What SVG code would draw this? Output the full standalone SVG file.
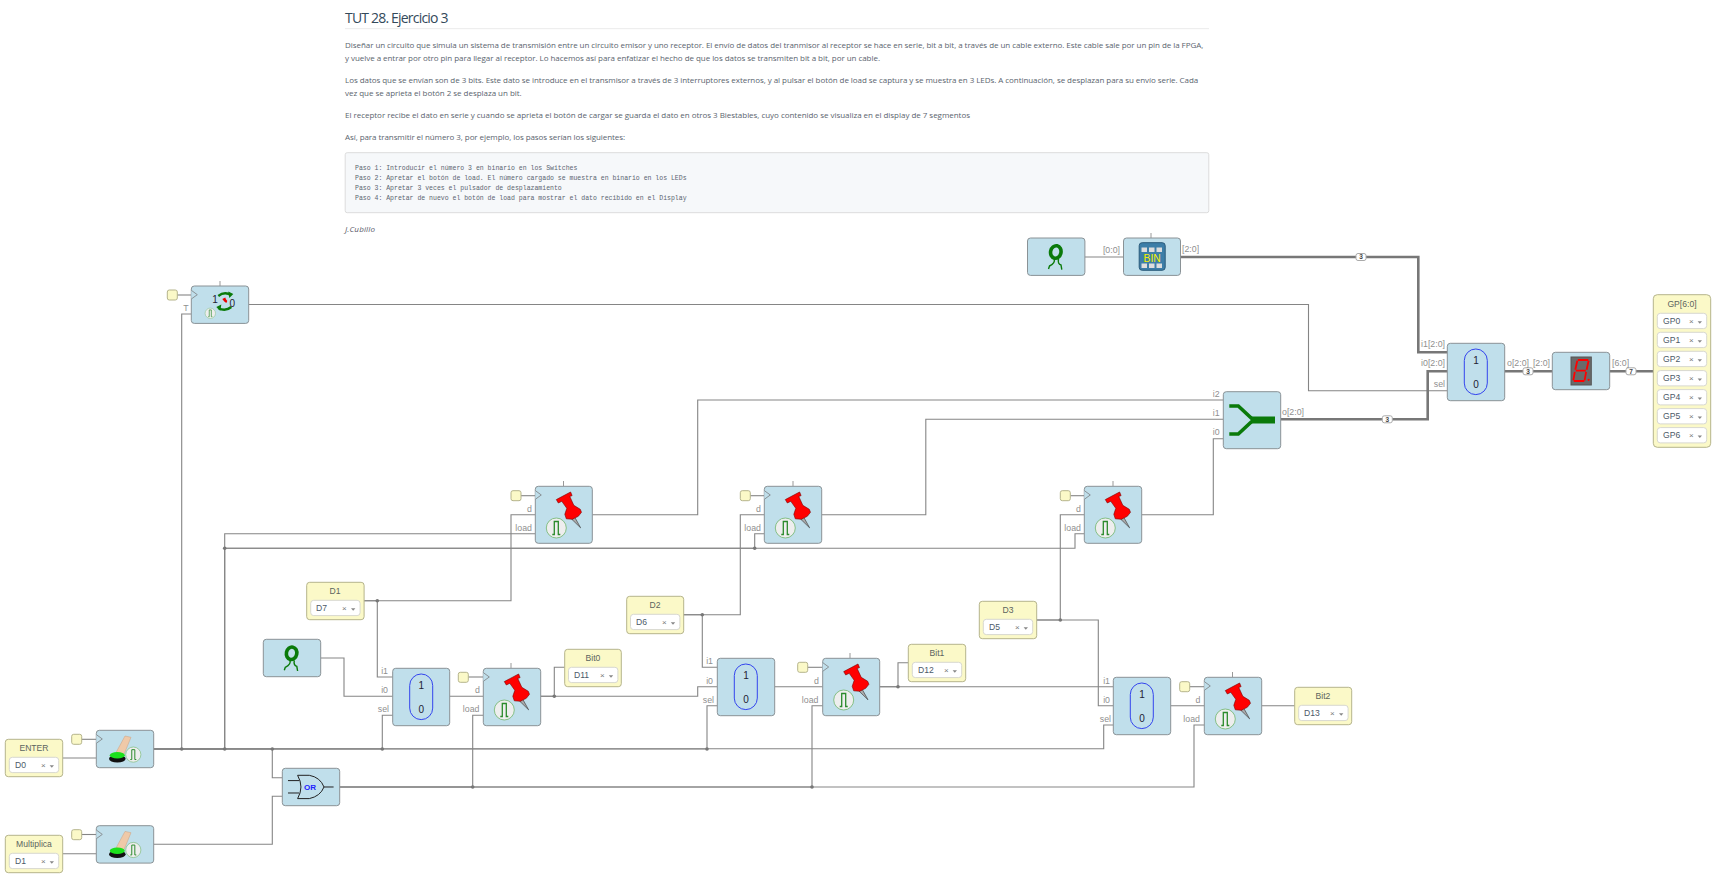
<svg xmlns="http://www.w3.org/2000/svg" width="1722" height="876" viewBox="0 0 1722 876">
<style>
text{font-family:"Liberation Sans",Arial,sans-serif}
.bg{fill:#fff}
.h1{font-family:"Open Sans","Noto Sans",sans-serif;font-size:14px;fill:#33495a}
.p{font-family:"Open Sans","Noto Sans",sans-serif;font-size:8px;fill:#5a646e}
.i{font-family:"Open Sans","Noto Sans",sans-serif;font-size:8px;font-style:italic;fill:#5a5a6a}
.m{font-family:"Liberation Mono","DejaVu Sans Mono",monospace;font-size:6.5px;fill:#5a6470}
.b{fill:#c0dfeb;stroke:#8a9296;stroke-width:1}
.y{fill:#fbf9c8;stroke:#b5b48c;stroke-width:1}
.s{fill:#fff;stroke:#d8d8d0;stroke-width:1}
.t{font-size:8.6px;fill:#5c6460;text-anchor:middle}
.v{font-size:8.6px;fill:#4c5a68}
.x{font-size:8px;fill:#777}
.l{font-size:8.8px;fill:#8f8f8f}
.e{text-anchor:end}
.w{fill:none;stroke:#858585;stroke-width:1.1}
.W{fill:none;stroke:#777;stroke-width:2.6}
.j{fill:#777}
.st{stroke:#999;stroke-width:1;fill:none}
.bd{fill:#fff;stroke:#aaa;stroke-width:1}
.bt{font-size:6.5px;font-weight:bold;fill:#444;text-anchor:middle}
.mt{font-size:10px;fill:#223;text-anchor:middle}
</style>
<defs>
<g id="clk"><polyline points="0,4.3 6,8.7 0,13" fill="#c0dfeb" stroke="#8a9296" stroke-width="1"/></g>
<g id="pulse"><circle r="10" fill="#eee" stroke="#86c086" stroke-width="1"/><polyline points="-4,6.5 -2,6.5 -2,-6.5 2,-6.5 2,6.5 4,6.5" fill="none" stroke="#2a8a2a" stroke-width="1.3"/></g>
<g id="pin">
<polygon points="39.5,31 36.5,33 45.3,41.5" fill="#aaa" stroke="#333" stroke-width=".6"/>
<polygon points="21,13.3 35.3,5.7 36.8,9.3 34.5,10.2 38.5,19 45,23 46.2,26 43,30 37,33 31,32.5 29.5,28 31.5,22 26.5,15 23,16.7" fill="#f00" stroke="#700" stroke-width=".6"/>
</g>
<g id="mux"><rect x="17" y="5.7" width="23" height="45.6" rx="11.5" fill="none" stroke="#3344ee" stroke-width="1"/><text class="mt" x="28.7" y="21">1</text><text class="mt" x="28.7" y="45">0</text></g>
<g id="sw">
<polygon points="28.7,5.7 34.7,7 27.7,24 19.7,22.3" fill="#efc9a8" stroke="#caa080" stroke-width=".5"/>
<ellipse cx="21" cy="28.5" rx="8.3" ry="3.8" fill="#111"/>
<ellipse cx="21" cy="25" rx="7.5" ry="3.2" fill="#1be01b"/>
<g transform="translate(37,24.3) scale(.76)"><use href="#pulse"/></g>
</g>
<g id="walk">
<ellipse cx="28.3" cy="14" rx="5.2" ry="6.3" transform="rotate(12 28.3 14)" fill="#c0dfeb" stroke="#0a7a0a" stroke-width="3.6"/>
<path d="M26.7,21 Q28,25 22,28 L21,31 M31,21 Q30,26 33.5,27 L34.3,31.7" fill="none" stroke="#0a7a0a" stroke-width="1.4"/>
</g>
<g id="sel"><rect class="s" width="49.4" height="15.3" rx="3"/><polygon points="40.3,8 44.7,8 42.5,10.5" fill="#888"/></g>
<g id="sq"><rect width="10" height="10" rx="2" fill="#fbf9c8" stroke="#b5b48c"/></g>
</defs>
<rect class="bg" width="1722" height="876"/>

<g id="doc">
<text class="h1" x="345" y="23" textLength="103.5">TUT 28. Ejercicio 3</text>
<rect x="345" y="28" width="864" height="1.2" fill="#eee"/>
<text class="p" x="345" y="47.5" textLength="858.3">Diseñar un circuito que simula un sistema de transmisión entre un circuito emisor y uno receptor. El envío de datos del tranmisor al receptor se hace en serie, bit a bit, a través de un cable externo. Este cable sale por un pin de la FPGA,</text>
<text class="p" x="345" y="60.5" textLength="535">y vuelve a entrar por otro pin para llegar al receptor. Lo hacemos así para enfatizar el hecho de que los datos se transmiten bit a bit, por un cable.</text>
<text class="p" x="345" y="82.5" textLength="853.3">Los datos que se envían son de 3 bits. Este dato se introduce en el transmisor a través de 3 interruptores externos, y al pulsar el botón de load se captura y se muestra en 3 LEDs. A continuación, se desplazan para su envío serie. Cada</text>
<text class="p" x="345" y="96" textLength="176.7">vez que se aprieta el botón 2 se desplaza un bit.</text>
<text class="p" x="345" y="118" textLength="625">El receptor recibe el dato en serie y cuando se aprieta el botón de cargar se guarda el dato en otros 3 Biestables, cuyo contenido se visualiza en el display de 7 segmentos</text>
<text class="p" x="345" y="140" textLength="280">Así, para transmitir el número 3, por ejemplo, los pasos serían los siguientes:</text>
<rect x="345.2" y="152.7" width="863.6" height="60" rx="2" fill="#f6f8fa" stroke="#dcdcdc"/>
<text class="m" x="355" y="170">Paso 1: Introducir el número 3 en binario en los Switches</text>
<text class="m" x="355" y="180">Paso 2: Apretar el botón de load. El número cargado se muestra en binario en los LEDs</text>
<text class="m" x="355" y="190">Paso 3: Apretar 3 veces el pulsador de desplazamiento</text>
<text class="m" x="355" y="200">Paso 4: Apretar de nuevo el botón de load para mostrar el dato recibido en el Display</text>
<text class="i" x="345" y="232" textLength="30">J.Cubillo</text>
</g>

<g id="connectors">
<path class="w" d="M248.7 304.5H1308.5V390.7H1447.3"/>
<path class="w" d="M191.3 314H181.7V749"/>
<path class="w" d="M177 295H191.3"/>
<path class="w" d="M1084.5 257H1123.5"/>
<path class="W" d="M1180 257H1418.3V352.3H1447.3"/>
<path class="W" d="M1280.7 419.3H1427.7V371.3H1447.3"/>
<path class="W" d="M1504.7 371.3H1552.3"/>
<path class="W" d="M1609.7 371.3H1653.3"/>
<path class="w" d="M62.7 758H96.3"/>
<path class="w" d="M81.7 739.3H96.3"/>
<path class="w" d="M62.7 853.7H96.3"/>
<path class="w" d="M81.7 834.5H96.3"/>
<path class="w" d="M153.7 748.8H1103.7V725H1113.3"/>
<path class="w" d="M153.7 749H707V705.7H717.3"/>
<path class="w" d="M153.7 749H382.3V715.3H392.7"/>
<path class="w" d="M153.7 749H224.7V533.7H535.3"/>
<path class="w" d="M153.7 749H224.7V548.3H754.7V533.7H764.3"/>
<path class="w" d="M224.7 548.3H1075V533.7H1084.3"/>
<path class="w" d="M153.7 749H272.3V777.7H282.3"/>
<path class="w" d="M153.7 844.3H272.3V796.3H282.3"/>
<path class="w" d="M339.7 787H1194V725H1204.3"/>
<path class="w" d="M339.7 787H472.7V715.3H483.3"/>
<path class="w" d="M339.7 787H812V705.7H822.7"/>
<path class="w" d="M363.7 600.7H511V514.7H535.3"/>
<path class="w" d="M363.7 600.7H377.3V677H392.7"/>
<path class="w" d="M320.7 658H344V696.3H392.7"/>
<path class="w" d="M449.7 696.3H483.3"/>
<path class="w" d="M468.3 677H483.3"/>
<path class="w" d="M540.7 696.3H697.7V686.7H717.3"/>
<path class="w" d="M540.7 696.3H554.3V667.3H564.7"/>
<path class="w" d="M683.3 614.7H740.3V514.7H764.3"/>
<path class="w" d="M683.3 614.7H702.3V667.3H717.3"/>
<path class="w" d="M774.7 686.7H822.7"/>
<path class="w" d="M807.7 667.3H822.7"/>
<path class="w" d="M879.7 686.7H1113.3"/>
<path class="w" d="M879.7 686.7H898V662.7H908.3"/>
<path class="w" d="M1036.7 620H1060.3V514.7H1084.3"/>
<path class="w" d="M1036.7 620H1098.3V705.7H1113.3"/>
<path class="w" d="M1170.7 705.7H1204.3"/>
<path class="w" d="M1189.7 686.7H1204.3"/>
<path class="w" d="M1261.7 705.7H1294.7"/>
<path class="w" d="M592.3 514.7H697.7V400H1223.3"/>
<path class="w" d="M821.7 514.7H925.8V419.3H1223.3"/>
<path class="w" d="M1141.7 514.7H1213.3V438.7H1223.3"/>
<path class="w" d="M521 495.7H535.3"/>
<path class="w" d="M750 495.7H764.3"/>
<path class="w" d="M1070.3 495.7H1084.3"/>
<g class="j">
<circle cx="181.7" cy="749" r="1.8"/><circle cx="224.7" cy="749" r="1.8"/><circle cx="272.3" cy="749" r="1.8"/>
<circle cx="382.3" cy="749" r="1.8"/><circle cx="707" cy="749" r="1.8"/>
<circle cx="224.7" cy="548.3" r="1.8"/><circle cx="754.7" cy="548.3" r="1.8"/>
<circle cx="472.7" cy="787" r="1.8"/><circle cx="812" cy="787" r="1.8"/>
<circle cx="377.3" cy="600.7" r="1.8"/><circle cx="702.3" cy="614.7" r="1.8"/><circle cx="1060.3" cy="620" r="1.8"/>
<circle cx="554.3" cy="696.3" r="1.8"/><circle cx="898" cy="686.7" r="1.8"/>
</g>
<g id="badges">
<rect class="bd" x="1356" y="253.5" width="10" height="7" rx="2"/><text class="bt" x="1361" y="259.4">3</text>
<rect class="bd" x="1382.3" y="415.8" width="10" height="7" rx="2"/><text class="bt" x="1387.3" y="421.7">3</text>
<rect class="bd" x="1523" y="367.8" width="10" height="7" rx="2"/><text class="bt" x="1528" y="373.7">3</text>
<rect class="bd" x="1626" y="367.8" width="10" height="7" rx="2"/><text class="bt" x="1631" y="373.7">7</text>
</g>
</g>

<g id="toggle">
<use href="#sq" x="167.3" y="290"/>
<path class="st" d="M220 281V286"/>
<g transform="translate(191.3,286)">
<rect class="b" width="57.4" height="37.4" rx="3"/>
<use href="#clk"/>
<path d="M27,10 Q33,5 40,9" fill="none" stroke="#0a7a0a" stroke-width="2.4"/><polygon points="37,5.5 42,8 38,12" fill="#0a7a0a"/>
<path d="M40,21 Q34,26 27,22" fill="none" stroke="#0a7a0a" stroke-width="2.4"/><polygon points="30,18.5 25,21 29,25" fill="#0a7a0a"/>
<polygon points="31,13 34,11.5 34.5,13 36,15 35,17 33,15.5" fill="#e00"/>
<text x="23.7" y="17" font-size="10" fill="#223" text-anchor="middle">1</text>
<text x="41" y="21" font-size="10" fill="#223" text-anchor="middle">0</text>
<g transform="translate(19,27.3) scale(.52)"><use href="#pulse"/></g>
</g>
<text class="l e" x="188.5" y="311">T</text>
</g>

<g id="generic-top" transform="translate(1027.5,238)"><rect class="b" width="57.4" height="37.4" rx="3"/><use href="#walk"/></g>

<g id="bin">
<path class="st" d="M1151 233V238"/>
<g transform="translate(1123.5,238)"><rect class="b" width="57" height="37.4" rx="3"/>
<rect x="15.7" y="4.7" width="26" height="27.6" rx="3" fill="#3d7ea8" stroke="#2a5a7a"/>
<g fill="#ddd"><rect x="18" y="9.5" width="5.5" height="4.5"/><rect x="25.5" y="9.5" width="5.5" height="4.5"/><rect x="33" y="9.5" width="5.5" height="4.5"/><rect x="18" y="25.5" width="5.5" height="4.5"/><rect x="25.5" y="25.5" width="5.5" height="4.5"/><rect x="33" y="25.5" width="5.5" height="4.5"/></g>
<text x="28.7" y="23.7" font-size="10.4" fill="#f4f000" text-anchor="middle">BIN</text></g>
<text class="l e" x="1120" y="253">[0:0]</text>
<text class="l" x="1182" y="252">[2:0]</text>
</g>

<g id="merge" transform="translate(1223.3,391.7)">
<rect class="b" width="57.4" height="57" rx="3"/>
<path d="M6,14.3H15L30,28.3L15,42.3H6" fill="none" stroke="#0a7a0a" stroke-width="3.6"/>
<path d="M28,28.3H51.7" fill="none" stroke="#0a7a0a" stroke-width="7"/>
</g>
<g id="merge-labels">
<text class="l e" x="1219.7" y="397">i2</text><text class="l e" x="1219.7" y="416">i1</text><text class="l e" x="1219.7" y="435">i0</text>
<text class="l" x="1282" y="414.7">o[2:0]</text>
</g>

<g id="mux-out">
<g transform="translate(1447.3,343.3)"><rect class="b" width="57.4" height="57.4" rx="3"/><use href="#mux"/></g>
<text class="l e" x="1445" y="347.3">i1[2:0]</text><text class="l e" x="1445" y="366">i0[2:0]</text><text class="l e" x="1445" y="387.3">sel</text>
<text class="l" x="1507" y="366">o[2:0]</text>
</g>

<g id="display">
<g transform="translate(1552.3,352.3)"><rect class="b" width="57.4" height="37.4" rx="3"/>
<rect x="18.7" y="4.7" width="20.3" height="28" fill="#6a6a6a" stroke="#555"/>
<path d="M25.5,7.7H36M25,8.5L23,17.5M36.3,8.5L34.3,17.5M23.5,18.3H33.5M22.5,19.5L21,28M33.8,19.5L32.3,28M21.5,28.7H32" fill="none" stroke="#f00" stroke-width="1.8"/>
<circle cx="36.3" cy="27.5" r="1.1" fill="#f00"/></g>
<text class="l e" x="1550" y="366">[2:0]</text><text class="l" x="1612" y="366">[6:0]</text>
</g>

<g id="gp">
<rect class="y" x="1653.3" y="294.7" width="57.4" height="152.6" rx="4"/>
<text class="t" x="1682" y="307">GP[6:0]</text>
<use href="#sel" x="1657.3" y="313.3"/><text class="v" x="1663" y="324">GP0</text><text class="x" x="1689" y="323.5">×</text>
<use href="#sel" x="1657.3" y="332.3"/><text class="v" x="1663" y="343">GP1</text><text class="x" x="1689" y="342.5">×</text>
<use href="#sel" x="1657.3" y="351.3"/><text class="v" x="1663" y="362">GP2</text><text class="x" x="1689" y="361.5">×</text>
<use href="#sel" x="1657.3" y="370.6"/><text class="v" x="1663" y="381.3">GP3</text><text class="x" x="1689" y="380.8">×</text>
<use href="#sel" x="1657.3" y="389.6"/><text class="v" x="1663" y="400.3">GP4</text><text class="x" x="1689" y="399.8">×</text>
<use href="#sel" x="1657.3" y="408.6"/><text class="v" x="1663" y="419.3">GP5</text><text class="x" x="1689" y="418.8">×</text>
<use href="#sel" x="1657.3" y="427.6"/><text class="v" x="1663" y="438.3">GP6</text><text class="x" x="1689" y="437.8">×</text>
</g>

<g id="enter"><rect class="y" x="5.3" y="739.3" width="57.4" height="37.4" rx="3"/><text class="t" x="34" y="751">ENTER</text><use href="#sel" x="9.3" y="757.3"/><text class="v" x="15" y="768">D0</text><text class="x" x="41" y="767.5">×</text></g>
<g id="multiplica"><rect class="y" x="5.3" y="835.3" width="57.4" height="37.4" rx="3"/><text class="t" x="34" y="847">Multiplica</text><use href="#sel" x="9.3" y="853.3"/><text class="v" x="15" y="864">D1</text><text class="x" x="41" y="863.5">×</text></g>

<g id="sw1"><use href="#sq" x="71.7" y="734.3"/><g transform="translate(96.3,730.3)"><rect class="b" width="57.4" height="37.4" rx="3"/><use href="#clk"/><use href="#sw"/></g></g>
<g id="sw2"><use href="#sq" x="71.7" y="829.7"/><g transform="translate(96.3,825.7)"><rect class="b" width="57.4" height="37.4" rx="3"/><use href="#clk"/><use href="#sw"/></g></g>

<g id="or" transform="translate(282.3,768.3)">
<rect class="b" width="57.4" height="37.4" rx="3"/>
<path d="M5.7,12.3H17M5.7,24.7H17M41.7,18.7H51.3" stroke="#222" stroke-width="1" fill="none"/>
<path d="M15.3,7H27Q38,9 41.7,18.7Q38,28 27,30.3H15.3Q22,18.7 15.3,7Z" fill="#c0dfeb" stroke="#222"/>
<text x="27.7" y="21.5" font-size="8" font-weight="bold" fill="#22f" text-anchor="middle">OR</text>
</g>

<g id="d1"><rect class="y" x="306.7" y="582.3" width="57.4" height="37.4" rx="3"/><text class="t" x="335" y="594">D1</text><use href="#sel" x="310.7" y="600.3"/><text class="v" x="316" y="611">D7</text><text class="x" x="342" y="610.5">×</text></g>
<g id="d2"><rect class="y" x="626.7" y="596.3" width="57" height="37.4" rx="3"/><text class="t" x="655" y="608">D2</text><use href="#sel" x="630.5" y="614.3"/><text class="v" x="636" y="625">D6</text><text class="x" x="662" y="624.5">×</text></g>
<g id="d3"><rect class="y" x="979.3" y="601.3" width="57.4" height="37.4" rx="3"/><text class="t" x="1008" y="613">D3</text><use href="#sel" x="983.3" y="619.3"/><text class="v" x="989" y="630">D5</text><text class="x" x="1015" y="629.5">×</text></g>
<g id="bit0"><rect class="y" x="564.7" y="649.3" width="56.6" height="37.4" rx="3"/><text class="t" x="593" y="661">Bit0</text><use href="#sel" x="568.5" y="667.3"/><text class="v" x="574" y="678">D11</text><text class="x" x="600" y="677.5">×</text></g>
<g id="bit1"><rect class="y" x="908.3" y="644.3" width="57.4" height="37.4" rx="3"/><text class="t" x="937" y="656">Bit1</text><use href="#sel" x="912.3" y="662.3"/><text class="v" x="918" y="673">D12</text><text class="x" x="944" y="672.5">×</text></g>
<g id="bit2"><rect class="y" x="1294.7" y="687.3" width="57" height="37.4" rx="3"/><text class="t" x="1323" y="699">Bit2</text><use href="#sel" x="1298.7" y="705.3"/><text class="v" x="1304" y="716">D13</text><text class="x" x="1330" y="715.5">×</text></g>

<g id="generic-low" transform="translate(263.3,639.3)"><rect class="b" width="57.4" height="37.4" rx="3"/><use href="#walk"/></g>

<g id="mux1"><g transform="translate(392.7,668.3)"><rect class="b" width="57" height="57.4" rx="3"/><use href="#mux"/></g><text class="l e" x="388" y="674">i1</text><text class="l e" x="388" y="693">i0</text><text class="l e" x="389" y="712">sel</text></g>
<g id="mux2"><g transform="translate(717.3,658.3)"><rect class="b" width="57.4" height="57.4" rx="3"/><use href="#mux"/></g><text class="l e" x="713" y="664">i1</text><text class="l e" x="713" y="683.5">i0</text><text class="l e" x="714" y="702.7">sel</text></g>
<g id="mux3"><g transform="translate(1113.3,677.3)"><rect class="b" width="57.4" height="57.4" rx="3"/><use href="#mux"/></g><text class="l e" x="1110" y="683.7">i1</text><text class="l e" x="1110" y="702.7">i0</text><text class="l e" x="1111" y="721.7">sel</text></g>

<g id="ff1"><use href="#sq" x="511" y="490.7"/><path class="st" d="M563.5 481V486.3"/><g transform="translate(535.3,486.3)"><rect class="b" width="57" height="57" rx="3"/><use href="#clk"/><use href="#pin"/><use href="#pulse" x="21" y="41.7"/></g><text class="l e" x="532" y="511.7">d</text><text class="l e" x="532" y="530.7">load</text></g>
<g id="ff2"><use href="#sq" x="740.3" y="490.7"/><path class="st" d="M793 481V486.3"/><g transform="translate(764.3,486.3)"><rect class="b" width="57.4" height="57" rx="3"/><use href="#clk"/><use href="#pin"/><use href="#pulse" x="21" y="41.7"/></g><text class="l e" x="761" y="511.7">d</text><text class="l e" x="761" y="530.7">load</text></g>
<g id="ff3"><use href="#sq" x="1060.3" y="490.7"/><path class="st" d="M1113 481V486.3"/><g transform="translate(1084.3,486.3)"><rect class="b" width="57.4" height="57" rx="3"/><use href="#clk"/><use href="#pin"/><use href="#pulse" x="21" y="41.7"/></g><text class="l e" x="1081" y="511.7">d</text><text class="l e" x="1081" y="530.7">load</text></g>
<g id="ff4"><use href="#sq" x="458.3" y="672.3"/><path class="st" d="M511 663V668.3"/><g transform="translate(483.3,668.3)"><rect class="b" width="57.4" height="57.4" rx="3"/><use href="#clk"/><use href="#pin"/><use href="#pulse" x="21" y="41.7"/></g><text class="l e" x="480" y="693.3">d</text><text class="l e" x="479.5" y="712.3">load</text></g>
<g id="ff5"><use href="#sq" x="797.7" y="662.3"/><path class="st" d="M850 653V658.3"/><g transform="translate(822.7,658.3)"><rect class="b" width="57" height="57.4" rx="3"/><use href="#clk"/><use href="#pin"/><use href="#pulse" x="21" y="41.7"/></g><text class="l e" x="819" y="683.7">d</text><text class="l e" x="818.5" y="702.7">load</text></g>
<g id="ff6"><use href="#sq" x="1179.7" y="681.7"/><path class="st" d="M1232.5 672V677.3"/><g transform="translate(1204.3,677.3)"><rect class="b" width="57.4" height="57.4" rx="3"/><use href="#clk"/><use href="#pin"/><use href="#pulse" x="21" y="41.7"/></g><text class="l e" x="1200.5" y="702.7">d</text><text class="l e" x="1200" y="721.7">load</text></g>
</svg>
